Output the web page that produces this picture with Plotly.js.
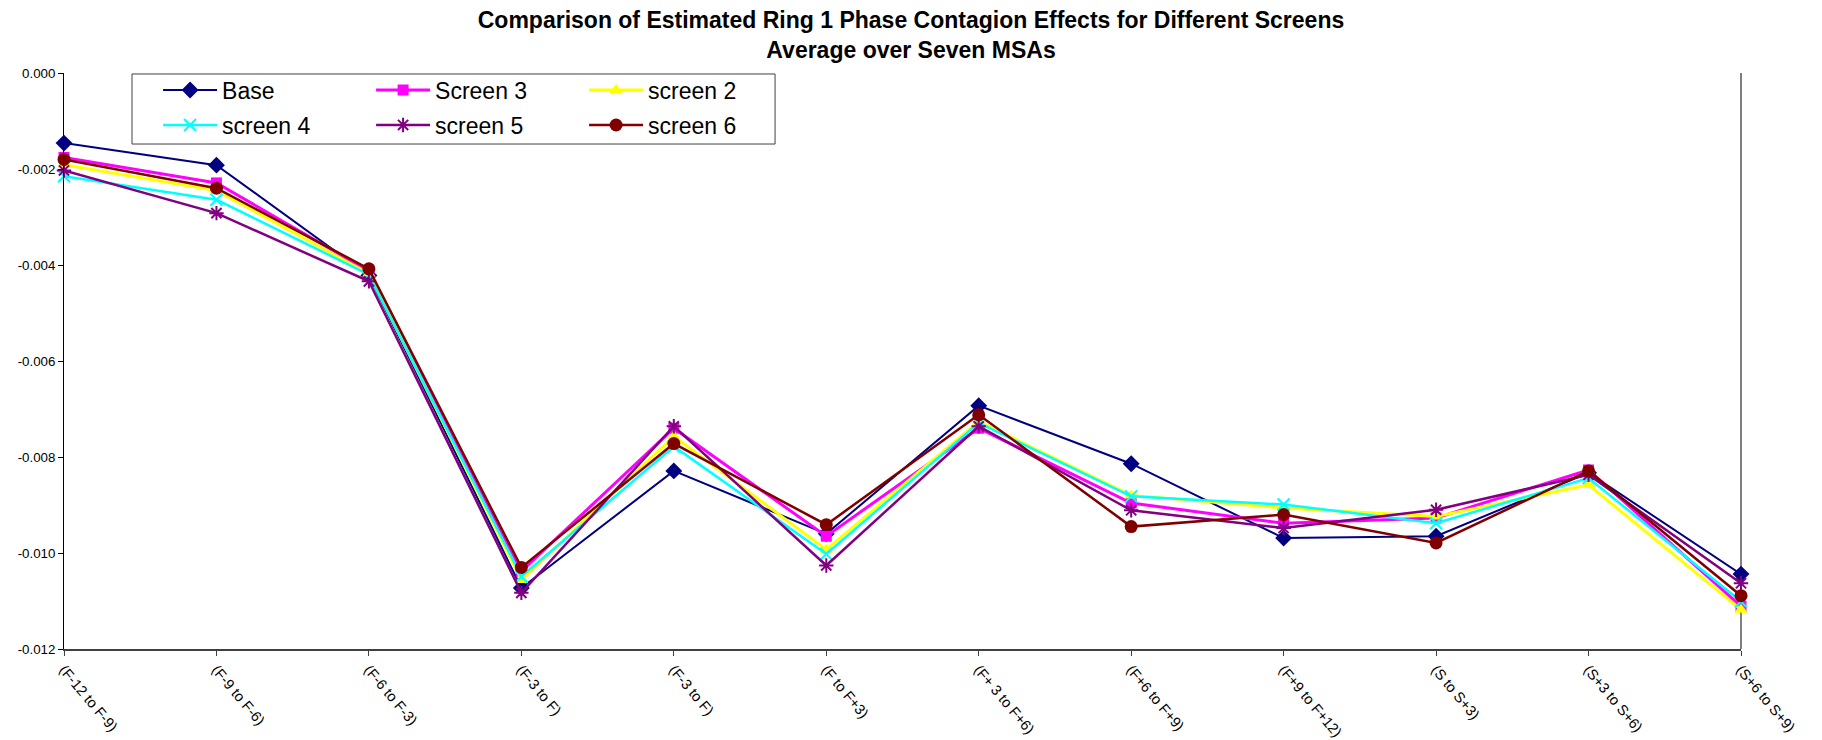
<!DOCTYPE html>
<html>
<head>
<meta charset="utf-8">
<script src="https://cdn.plot.ly/plotly-3.0.1.min.js"></script>
<style>
  html, body { margin: 0; padding: 0; background: #ffffff; }
  #chart { width: 1822px; height: 740px; }
</style>
</head>
<body>
<div id="chart"></div>
<script>
// Category (tick) labels along the x axis
const categories = [
  "(F-12 to F-9)", "(F-9 to F-6)", "(F-6 to F-3)", "(F-3 to F)", "(F-3 to F)",
  "(F to F+3)", "(F+ 3 to F+6)", "(F+6 to F+9)", "(F+9 to F+12)",
  "(S to S+3)", "(S+3 to S+6)", "(S+6 to S+9)"
];

// Series values (estimated contagion effects)
const base    = [-0.00146, -0.00192, -0.00422, -0.01073, -0.00829, -0.00960, -0.00693, -0.00814, -0.00969, -0.00965, -0.00833, -0.01044];
const screen3 = [-0.00176, -0.00229, -0.00413, -0.01038, -0.00740, -0.00965, -0.00740, -0.00896, -0.00938, -0.00927, -0.00827, -0.01111];
const screen2 = [-0.00191, -0.00245, -0.00418, -0.01056, -0.00757, -0.00993, -0.00726, -0.00880, -0.00906, -0.00924, -0.00858, -0.01118];
const screen4 = [-0.00215, -0.00264, -0.00420, -0.01049, -0.00778, -0.01002, -0.00729, -0.00882, -0.00899, -0.00938, -0.00844, -0.01101];
const screen5 = [-0.00203, -0.00292, -0.00434, -0.01083, -0.00736, -0.01026, -0.00736, -0.00911, -0.00948, -0.00910, -0.00837, -0.01063];
const screen6 = [-0.00180, -0.00240, -0.00408, -0.01030, -0.00772, -0.00941, -0.00712, -0.00945, -0.00920, -0.00979, -0.00829, -0.01089];

// Y axis tick values and labels
const yTickVals = [0, -0.002, -0.004, -0.006, -0.008, -0.010, -0.012];
const yTickText = ["0.000", "-0.002", "-0.004", "-0.006", "-0.008", "-0.010", "-0.012"];

const xIdx = categories.map((_, i) => i);
const FONT = "Arial, 'Liberation Sans', sans-serif";

function series(name, y, color, width, symbol, size, open, legendId) {
  const marker = { symbol: symbol, size: size, color: color };
  if (open) marker.line = { color: color, width: 2 };
  return {
    type: "scatter", mode: "lines+markers", name: name,
    x: xIdx, y: y,
    line: { color: color, width: width },
    marker: marker,
    cliponaxis: false,
    legend: legendId
  };
}

const traces = [
  series("Base",     base,    "#000080", 2,   "diamond",        13, false, "legend"),
  series("Screen 3", screen3, "#FF00FF", 3,   "square",         11, false, "legend"),
  series("screen 2", screen2, "#FFFF00", 3,   "triangle-up",    12, false, "legend"),
  series("screen 4", screen4, "#00FFFF", 2.5, "x-thin-open",    12, true,  "legend2"),
  series("screen 5", screen5, "#800080", 2.5, "asterisk-open",  12, true,  "legend2"),
  series("screen 6", screen6, "#800000", 2.5, "circle",         13, false, "legend2")
];

const legendCommon = {
  orientation: "h",
  xanchor: "left", yanchor: "top",
  entrywidth: 144, entrywidthmode: "pixels",
  itemwidth: 54,
  bgcolor: "rgba(0,0,0,0)", borderwidth: 0,
  font: { size: 23, family: FONT, color: "#000000" },
  traceorder: "normal"
};

const layout = {
  width: 1822, height: 740,
  paper_bgcolor: "#ffffff", plot_bgcolor: "#ffffff",
  margin: { l: 64, r: 81, t: 73, b: 91 },
  font: { family: FONT, color: "#000000" },
  title: {
    text: "<b>Comparison of Estimated Ring 1 Phase Contagion Effects for Different Screens<br>Average over Seven MSAs</b>",
    font: { size: 23, family: FONT, color: "#000000" },
    x: 0.5, xanchor: "center", xref: "container", yref: "container", y: 0.962, yanchor: "top"
  },
  showlegend: true,
  legend: Object.assign({}, legendCommon, { x: 0.0561, y: 1.0078 }),
  legend2: Object.assign({}, legendCommon, { x: 0.0561, y: 0.9470 }),
  xaxis: {
    range: [0, 11],
    tickmode: "array", tickvals: xIdx, ticktext: categories,
    tickangle: 50,
    ticks: "outside", ticklen: 5, tickcolor: "#404040",
    showline: true, linecolor: "#404040", linewidth: 1.5,
    showgrid: false, zeroline: false,
    tickfont: { size: 14.5, family: FONT, color: "#000000" }
  },
  yaxis: {
    range: [-0.012, 0],
    tickmode: "array", tickvals: yTickVals, ticktext: yTickText,
    ticks: "outside", ticklen: 5, tickcolor: "#000000",
    showline: true, linecolor: "#000000", linewidth: 1,
    showgrid: false, zeroline: false,
    tickfont: { size: 13.3, family: FONT, color: "#000000" }
  },
  shapes: [
    { type: "line", xref: "paper", yref: "paper", x0: 1, x1: 1, y0: 0, y1: 1,
      line: { color: "#808080", width: 2 }, layer: "below" },
    { type: "rect", xref: "paper", yref: "paper", x0: 0.04055, x1: 0.424, y0: 0.8767, y1: 0.9983,
      line: { color: "#404040", width: 1 }, fillcolor: "#ffffff", layer: "below" }
  ]
};

Plotly.newPlot("chart", traces, layout, { displayModeBar: false, staticPlot: true });
</script>
</body>
</html>
